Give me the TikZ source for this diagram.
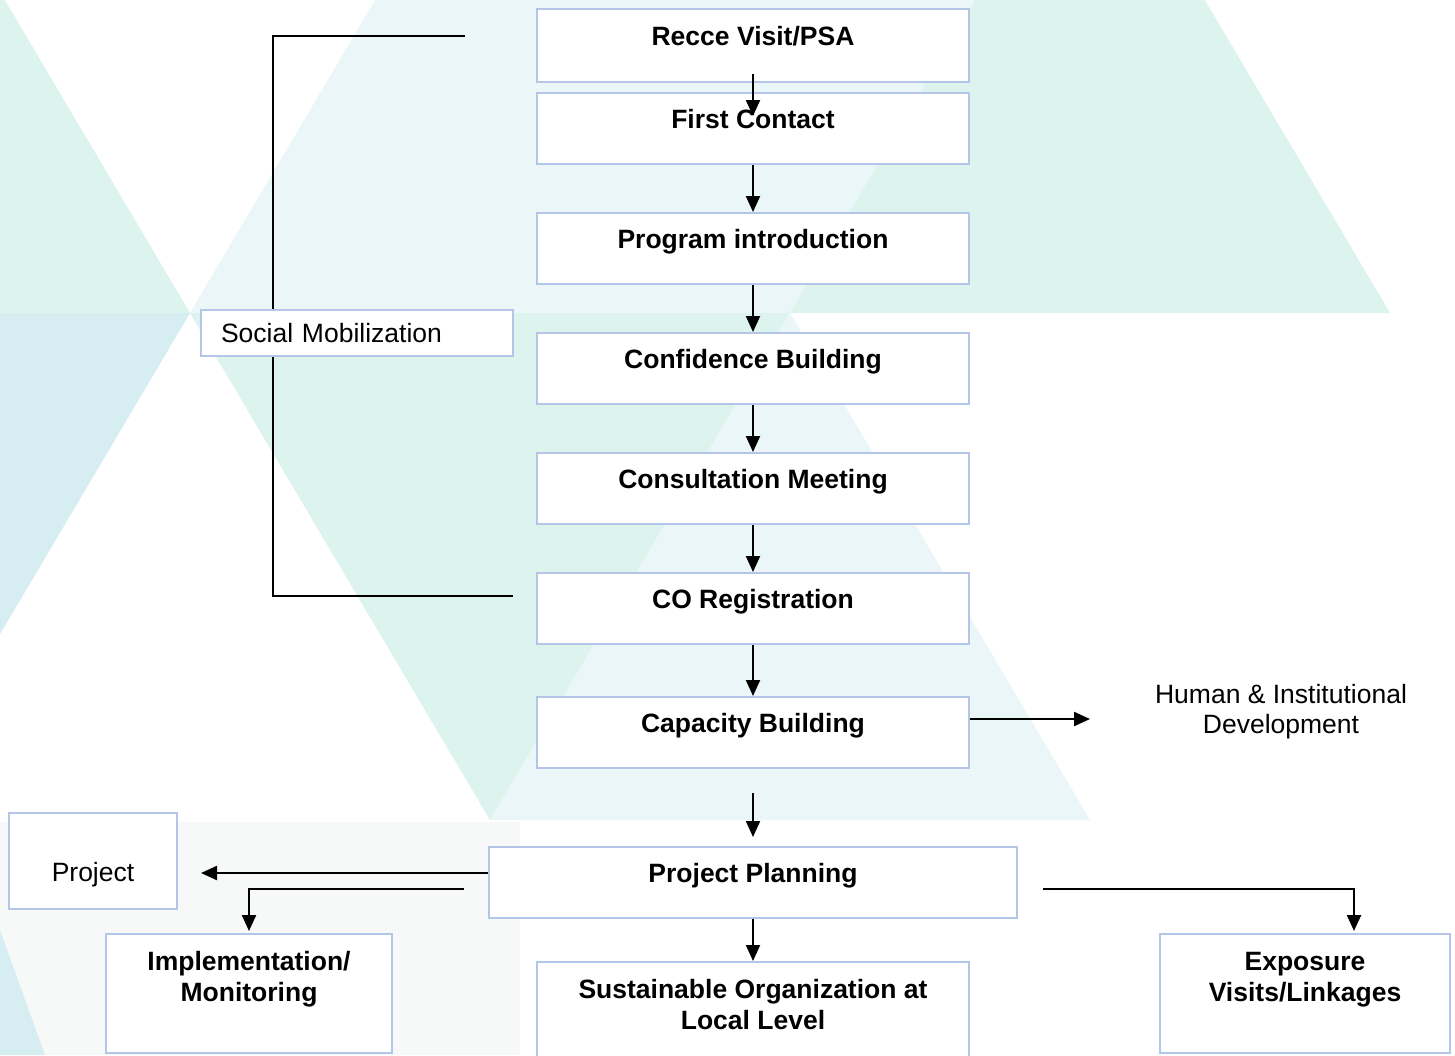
\documentclass[tikz,border=0pt]{standalone}
\usepackage{fontspec}
\setmainfont{Liberation Sans}
\usetikzlibrary{arrows.meta,calc}
\definecolor{bteal}{HTML}{DCF3EE}
\definecolor{bcyan}{HTML}{EAF6F8}
\definecolor{bblue}{HTML}{D6EDF2}
\definecolor{bgrey}{HTML}{F7F9F9}
\definecolor{boxline}{HTML}{B4C6E7}
\begin{document}
\begin{tikzpicture}[x=1pt,y=1pt,
  box/.style={draw=boxline, line width=2pt, fill=white, rectangle, inner sep=0pt,
    font=\fontsize{26.5}{31}\selectfont\bfseries, text height=0pt, text depth=0pt,
    minimum width=432pt, minimum height=71pt},
  boxtwo/.style={box, text depth=46pt, minimum height=119pt},
  sbox/.style={draw=boxline, line width=2pt, fill=white, rectangle, inner xsep=20pt, inner ysep=0pt,
    font=\fontsize{26.5}{31}\selectfont, text height=19pt, text depth=0pt,
    text width=272pt, align=left, minimum height=46pt},
  pbox/.style={draw=boxline, line width=2pt, fill=white, rectangle, inner sep=0pt,
    font=\fontsize{26.5}{31}\selectfont, text height=40pt, text depth=0pt,
    minimum width=168pt, minimum height=96pt},
  plain/.style={font=\fontsize{26.5}{30}\selectfont, align=center, inner sep=0pt},
  arr/.style={line width=2pt, -{Triangle[length=16pt,width=14pt]}},
  arrb/.style={line width=2.3pt, -{Triangle[length=16pt,width=14pt]}},
  brk/.style={line width=1.5pt}
]
\useasboundingbox (0,0) rectangle (1455,-1055);
% ---------- background triangles ----------
\begin{scope}
\clip (0,0) rectangle (1455,-1055);
\fill[white] (0,0) rectangle (1455,-1055);
% top row
\fill[bteal] (-110,194) -- (-410,-313) -- (190,-313) -- cycle;
\fill[bcyan] (490,194) -- (190,-313) -- (790,-313) -- cycle;
\fill[bcyan] (490,194) -- (1090,194) -- (790,-313) -- cycle;
\fill[bteal] (1090,194) -- (790,-313) -- (1390,-313) -- cycle;
% middle row
\fill[bblue] (-410,-313) -- (190,-313) -- (-110,-820) -- cycle;
\fill[bteal] (190,-313) -- (790,-313) -- (490,-820) -- cycle;
\fill[bcyan] (790,-313) -- (490,-820) -- (1090,-820) -- cycle;
% bottom row
\fill[bgrey] (0,-822) rectangle (520,-1055);
\fill[bblue] (0,-930) -- (45,-1055) -- (0,-1055) -- cycle;
\end{scope}
% ---------- social mobilization bracket ----------
\coordinate (smstart) at (465,-36);
\coordinate (smtop) at (273,-36);
\coordinate (smbot) at (273,-596);
\coordinate (smend) at (513,-596);
\draw[brk] (smstart) -- (smtop) -- (smbot) -- (smend);
\node[sbox] (social) at (357,-333) {Social Mobilization};
% ---------- boxes ----------
\node[box, minimum height=73pt] (recce) at (753,-45.5) {Recce Visit/PSA};
\node[box] (first) at (753,-128.5) {First Contact};
\node[box] (prog) at (753,-248.5) {Program introduction};
\node[box] (conf) at (753,-368.5) {Confidence Building};
\node[box] (cons) at (753,-488.5) {Consultation Meeting};
\node[box] (coreg) at (753,-608.5) {CO Registration};
\node[box] (cap) at (753,-732.5) {Capacity Building};
\node[box, minimum width=528pt] (plan) at (753,-882.5) {Project Planning};
\node[boxtwo, minimum width=286pt] (impl) at (249,-993.5) {\parbox[t]{280pt}{\centering Implementation/\\Monitoring}};
\node[boxtwo, minimum width=432pt] (sust) at (753,-1021.5) {\parbox[t]{420pt}{\centering Sustainable Organization at\\Local Level}};
\node[boxtwo, minimum width=290pt] (expo) at (1305,-993.5) {\parbox[t]{280pt}{\centering Exposure\\Visits/Linkages}};
\node[pbox] (proj) at (93,-861) {Project};
\node[plain] (hid) at (1281,-712) {Human \& Institutional\\Development};
\coordinate (hidin) at (1090,-719);
% ---------- connectors ----------
\draw[arr] ($(recce.south)+(0,9)$) -- ($(first.north)+(0,-24)$);
\draw[arr] (first) -- (prog);
\draw[arr] (prog) -- (conf);
\draw[arr] (conf) -- (cons);
\draw[arr] (cons) -- (coreg);
\draw[arr] (coreg) -- (cap);
\draw[arr] ($(cap.south)+(0,-24)$) -- ($(plan.north)+(0,9)$);
\draw[arrb] ($(cap.east)+(0,13.5)$) -- (hidin);
\draw[arrb] ($(plan.west)+(0,9.5)$) -- ($(proj.east)+(23,-12)$);
\draw[arrb] ($(plan.west)+(-24,-6.5)$) -| ($(impl.north)+(0,2)$);
\draw[arr] (plan) -- (sust);
\draw[arrb] ($(plan.east)+(25,-6.5)$) -| ($(expo.north)+(49,2)$);
\end{tikzpicture}
\end{document}
